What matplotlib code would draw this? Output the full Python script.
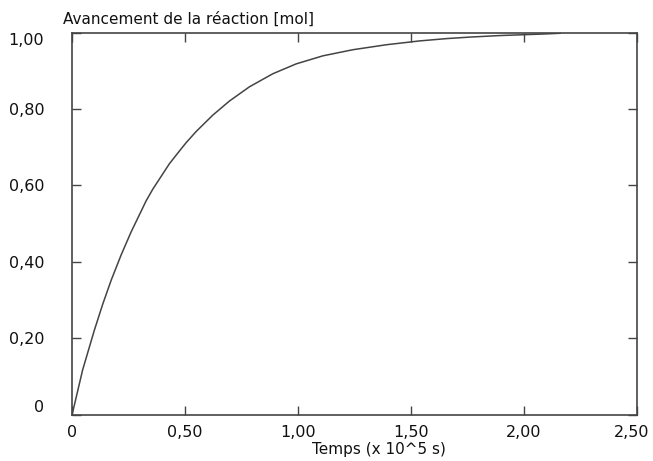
import numpy as np
import matplotlib.pyplot as plt
import matplotlib.transforms as mtransforms

plt.rcParams['font.family'] = 'DejaVu Sans'

# valeurs
temps = [0.0, 0.047, 0.099, 0.136, 0.173, 0.217, 0.261, 0.328, 0.357, 0.431,
         0.475, 0.505, 0.549, 0.623, 0.697, 0.785, 0.888, 0.992, 1.110, 1.243,
         1.391, 1.450, 1.538, 1.656, 1.760, 1.892, 2.084, 2.160]
avancement = [0.0, 0.118, 0.222, 0.290, 0.352, 0.418, 0.478, 0.560, 0.590, 0.657,
              0.690, 0.712, 0.741, 0.784, 0.821, 0.858, 0.892, 0.918, 0.939, 0.955,
              0.968, 0.972, 0.978, 0.984, 0.988, 0.992, 0.996, 0.998]

xticks = [0, 0.5, 1.0, 1.5, 2.0, 2.5]
xlabels = ['0', '0,50', '1,00', '1,50', '2,00', '2,50']
yticks = [0, 0.2, 0.4, 0.6, 0.8, 1.0]
ylabels = ['0', '0,20', '0,40', '0,60', '0,80', '1,00']

fig = plt.figure(figsize=(6.53, 4.61), dpi=100)
ax = fig.add_axes([0.1103, 0.0998, 0.8652, 0.8297])

ax.plot(temps, avancement, color='#444444', linewidth=1.1)

ax.set_xlim(0, 2.5)
ax.set_ylim(0, 1.0)
ax.set_xticks(xticks)
ax.set_xticklabels(xlabels)
ax.set_yticks(yticks)
ax.set_yticklabels(ylabels)

ax.tick_params(axis='both', direction='in', length=6.5, width=1.0,
               color='#444444', labelsize=11.5, labelcolor='#111111')
ax.tick_params(axis='x', top=True, pad=7)
ax.tick_params(axis='y', right=True, pad=20)

for s in ax.spines.values():
    s.set_color('#444444')
    s.set_linewidth(1.2)

# décalages des étiquettes extrêmes
ylab = ax.get_yticklabels()
ylab[0].set_va('bottom')
ylab[-1].set_va('top')
xlab = ax.get_xticklabels()
xlab[-1].set_transform(xlab[-1].get_transform() +
                       mtransforms.ScaledTranslation(-5 / 100, 0, fig.dpi_scale_trans))

ax.set_xlabel('Temps (x 10^5 s)', fontsize=11, color='#111111')
ax.xaxis.set_label_coords(0.543, -0.07)

fig.text(63 / 653, 1 - 19 / 461, 'Avancement de la réaction [mol]',
         fontsize=11, color='#111111', ha='left', va='center')

fig.savefig('out.png', dpi=100)
